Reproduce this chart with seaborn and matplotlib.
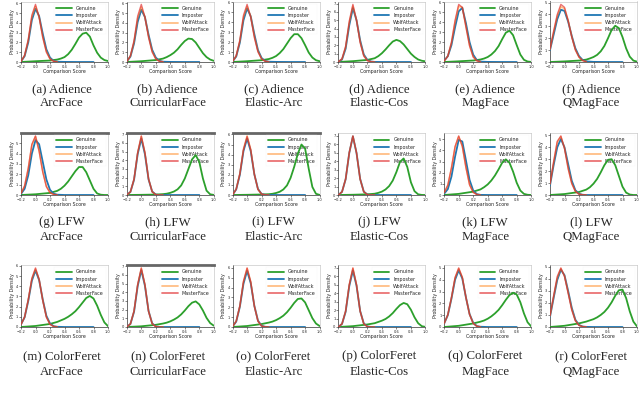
import matplotlib
matplotlib.use("Agg")
import matplotlib.pyplot as plt
import matplotlib.ticker as mticker
import seaborn as sns

datasets = ["Adience", "LFW", "ColorFeret"]
models = ["ArcFace", "CurricularFace", "Elastic-Arc", "Elastic-Cos", "MagFace", "QMagFace"]
letters = "abcdefghijklmnopqr"
labels = ["Genuine", "Imposter", "WolfAttack", "MasterFace"]

# comparison score grids (x values the densities were read at)
imp_x = [-0.2, -0.15, -0.1, -0.05, 0.0, 0.05, 0.1, 0.15, 0.2, 0.25, 0.3, 0.4, 0.6, 0.8]
atk_x = [-0.2, -0.15, -0.1, -0.05, 0.0, 0.05, 0.1, 0.15, 0.2, 0.25, 0.3]
gen_x = [-0.2, 0.0, 0.2, 0.3, 0.35, 0.4, 0.45, 0.5, 0.55, 0.6, 0.65, 0.7, 0.75, 0.8,
         0.85, 0.9, 0.95, 1.0]

# Adience
adience_genuine = [
    [0.0, 0.08, 0.15, 0.25, 0.35, 0.5, 0.8, 1.25, 1.85, 2.5, 2.9, 3.0, 2.6, 1.7, 0.95, 0.45, 0.2, 0.1],
    [0.0, 0.08, 0.2, 0.35, 0.5, 0.7, 0.95, 1.3, 1.75, 2.15, 2.4, 2.35, 2.0, 1.45, 0.9, 0.5, 0.25, 0.12],
    [0.0, 0.08, 0.18, 0.3, 0.42, 0.6, 0.9, 1.3, 1.85, 2.4, 2.8, 2.8, 2.4, 1.7, 0.95, 0.45, 0.18, 0.08],
    [0.0, 0.1, 0.25, 0.45, 0.7, 1.05, 1.5, 2.0, 2.45, 2.65, 2.5, 2.1, 1.55, 1.0, 0.6, 0.3, 0.15, 0.08],
    [0.0, 0.07, 0.15, 0.25, 0.35, 0.5, 0.75, 1.1, 1.6, 2.3, 2.95, 3.15, 2.7, 1.7, 0.75, 0.22, 0.05, 0.01],
    [0.0, 0.05, 0.12, 0.2, 0.3, 0.42, 0.6, 0.9, 1.35, 2.0, 2.7, 3.05, 2.85, 2.1, 1.15, 0.45, 0.12, 0.03],
]
adience_imposter = [
    [0.05, 0.6, 2.0, 4.3, 5.45, 4.7, 2.9, 1.3, 0.45, 0.12, 0.03, 0.01, 0.0, 0.0],
    [0.05, 0.55, 1.9, 4.1, 5.35, 4.6, 2.8, 1.25, 0.45, 0.12, 0.03, 0.01, 0.0, 0.0],
    [0.05, 0.55, 1.95, 4.2, 5.4, 4.6, 2.8, 1.2, 0.4, 0.1, 0.03, 0.01, 0.0, 0.0],
    [0.02, 0.3, 1.6, 4.4, 6.45, 5.0, 2.6, 0.9, 0.25, 0.06, 0.01, 0.0, 0.0, 0.0],
    [0.14, 0.58, 1.7, 3.5, 5.1, 5.45, 3.9, 2.0, 0.74, 0.19, 0.04, 0.01, 0.0, 0.0],
    [1.0, 2.3, 3.6, 4.4, 4.3, 3.4, 2.2, 1.15, 0.5, 0.17, 0.05, 0.01, 0.0, 0.0],
]
adience_wolf = [
    [0.05, 0.65, 2.2, 4.6, 5.7, 4.6, 2.6, 1.1, 0.35, 0.08, 0.02],
    [0.05, 0.6, 2.05, 4.45, 5.6, 4.6, 2.65, 1.1, 0.35, 0.08, 0.02],
    [0.05, 0.6, 2.1, 4.5, 5.6, 4.6, 2.6, 1.1, 0.33, 0.08, 0.02],
    [0.03, 0.35, 1.75, 4.7, 6.7, 5.0, 2.45, 0.8, 0.2, 0.04, 0.01],
    [0.1, 0.6, 1.9, 4.0, 5.6, 5.5, 3.6, 1.7, 0.55, 0.13, 0.03],
    [1.05, 2.5, 3.85, 4.65, 4.5, 3.5, 2.15, 1.05, 0.42, 0.13, 0.03],
]
adience_master = [
    [0.05, 0.7, 2.3, 4.8, 5.9, 4.6, 2.5, 1.0, 0.3, 0.07, 0.02],
    [0.05, 0.65, 2.2, 4.7, 5.9, 4.6, 2.5, 1.0, 0.3, 0.07, 0.02],
    [0.05, 0.65, 2.2, 4.7, 5.8, 4.5, 2.45, 1.0, 0.3, 0.07, 0.02],
    [0.03, 0.4, 1.9, 4.9, 6.9, 5.0, 2.3, 0.7, 0.15, 0.03, 0.0],
    [0.1, 0.6, 2.0, 4.2, 5.8, 5.5, 3.5, 1.6, 0.5, 0.12, 0.03],
    [1.1, 2.6, 4.0, 4.85, 4.6, 3.5, 2.1, 1.0, 0.4, 0.12, 0.03],
]

# LFW
lfw_genuine = [
    [0.0, 0.07, 0.2, 0.4, 0.6, 0.9, 1.3, 1.8, 2.3, 2.7, 2.7, 2.2, 1.4, 0.6, 0.15, 0.03, 0.0, 0.0],
    [0.0, 0.02, 0.05, 0.1, 0.15, 0.25, 0.4, 0.65, 1.1, 1.9, 3.0, 4.1, 4.6, 3.8, 1.9, 0.5, 0.08, 0.01],
    [0.0, 0.02, 0.05, 0.08, 0.12, 0.2, 0.32, 0.55, 0.95, 1.7, 2.8, 4.1, 5.0, 4.6, 2.6, 0.8, 0.12, 0.01],
    [0.0, 0.03, 0.08, 0.15, 0.25, 0.4, 0.65, 1.05, 1.7, 2.7, 3.9, 4.3, 3.3, 1.5, 0.45, 0.08, 0.01, 0.0],
    [0.0, 0.1, 0.3, 0.5, 0.7, 0.95, 1.3, 1.75, 2.3, 2.9, 3.2, 2.9, 2.1, 1.1, 0.4, 0.1, 0.02, 0.0],
    [0.0, 0.08, 0.25, 0.45, 0.65, 0.95, 1.35, 1.9, 2.5, 2.95, 3.0, 2.5, 1.6, 0.7, 0.2, 0.04, 0.0, 0.0],
]
lfw_imposter = [
    [0.1, 0.6, 1.9, 4.0, 5.3, 4.9, 3.2, 1.5, 0.5, 0.13, 0.03, 0.0, 0.0, 0.0],
    [0.0, 0.35, 1.75, 4.7, 6.5, 4.7, 1.8, 0.4, 0.05, 0.0, 0.0, 0.0, 0.0, 0.0],
    [0.02, 0.56, 2.0, 4.35, 5.6, 4.35, 2.05, 0.6, 0.1, 0.02, 0.0, 0.0, 0.0, 0.0],
    [0.0, 0.37, 1.85, 4.95, 6.9, 4.95, 1.9, 0.4, 0.05, 0.0, 0.0, 0.0, 0.0, 0.0],
    [0.12, 0.53, 1.65, 3.45, 4.95, 4.8, 3.1, 1.35, 0.4, 0.08, 0.01, 0.0, 0.0, 0.0],
    [0.8, 2.5, 4.0, 4.7, 4.0, 2.6, 1.2, 0.4, 0.1, 0.02, 0.0, 0.0, 0.0, 0.0],
]
lfw_wolf = [
    [0.15, 0.85, 2.5, 4.8, 5.65, 4.3, 2.3, 0.85, 0.25, 0.05, 0.01],
    [0.0, 0.36, 1.8, 4.85, 6.75, 4.85, 1.85, 0.38, 0.04, 0.0, 0.0],
    [0.02, 0.6, 2.1, 4.55, 5.85, 4.5, 2.05, 0.56, 0.09, 0.01, 0.0],
    [0.0, 0.37, 1.88, 4.98, 6.92, 4.95, 1.87, 0.38, 0.04, 0.0, 0.0],
    [0.2, 0.85, 2.4, 4.3, 5.25, 4.4, 2.5, 0.95, 0.25, 0.05, 0.0],
    [0.9, 2.7, 4.4, 4.9, 3.95, 2.3, 1.0, 0.32, 0.08, 0.01, 0.0],
]
lfw_master = [
    [0.15, 0.9, 2.6, 4.9, 5.7, 4.2, 2.2, 0.8, 0.22, 0.05, 0.01],
    [0.0, 0.37, 1.85, 4.9, 6.8, 4.9, 1.85, 0.37, 0.04, 0.0, 0.0],
    [0.02, 0.58, 2.1, 4.5, 5.8, 4.5, 2.05, 0.55, 0.09, 0.01, 0.0],
    [0.0, 0.38, 1.9, 5.0, 6.95, 4.95, 1.85, 0.37, 0.04, 0.0, 0.0],
    [0.23, 0.9, 2.45, 4.35, 5.3, 4.35, 2.45, 0.9, 0.23, 0.04, 0.0],
    [0.95, 2.8, 4.5, 4.95, 3.9, 2.2, 0.95, 0.3, 0.07, 0.01, 0.0],
]

# ColorFeret
feret_genuine = [
    [0.0, 0.1, 0.3, 0.5, 0.65, 0.8, 1.0, 1.25, 1.55, 1.95, 2.4, 2.85, 3.05, 2.8, 2.1, 1.2, 0.45, 0.08],
    [0.0, 0.08, 0.25, 0.4, 0.5, 0.65, 0.85, 1.1, 1.45, 1.9, 2.4, 2.8, 2.95, 2.6, 1.9, 1.05, 0.45, 0.15],
    [0.0, 0.1, 0.3, 0.45, 0.55, 0.7, 0.9, 1.15, 1.5, 1.95, 2.45, 2.85, 2.9, 2.5, 1.7, 0.9, 0.35, 0.1],
    [0.0, 0.1, 0.3, 0.45, 0.6, 0.75, 0.95, 1.25, 1.65, 2.15, 2.6, 2.85, 2.7, 2.05, 1.15, 0.45, 0.1, 0.01],
    [0.0, 0.1, 0.3, 0.45, 0.55, 0.7, 0.9, 1.15, 1.45, 1.85, 2.3, 2.7, 2.9, 2.75, 2.1, 1.15, 0.4, 0.05],
    [0.0, 0.1, 0.3, 0.45, 0.55, 0.65, 0.8, 1.0, 1.25, 1.6, 2.05, 2.6, 3.05, 3.1, 2.4, 1.3, 0.45, 0.05],
]
feret_imposter = [
    [0.25, 0.95, 2.55, 4.55, 5.55, 4.6, 2.7, 1.1, 0.35, 0.08, 0.02, 0.0, 0.0, 0.0],
    [0.0, 0.35, 1.75, 4.7, 6.55, 4.75, 1.85, 0.42, 0.06, 0.01, 0.0, 0.0, 0.0, 0.0],
    [0.05, 0.55, 2.05, 4.4, 5.7, 4.45, 2.15, 0.65, 0.12, 0.02, 0.0, 0.0, 0.0, 0.0],
    [0.0, 0.37, 1.8, 4.85, 6.7, 4.9, 1.9, 0.42, 0.06, 0.01, 0.0, 0.0, 0.0, 0.0],
    [0.3, 1.0, 2.4, 4.0, 4.8, 4.1, 2.5, 1.1, 0.35, 0.08, 0.02, 0.0, 0.0, 0.0],
    [0.85, 2.4, 3.9, 4.75, 4.3, 3.0, 1.6, 0.6, 0.17, 0.04, 0.01, 0.0, 0.0, 0.0],
]
feret_wolf = [
    [0.25, 0.98, 2.65, 4.7, 5.7, 4.65, 2.65, 1.0, 0.28, 0.06, 0.01],
    [0.0, 0.36, 1.82, 4.85, 6.75, 4.85, 1.85, 0.38, 0.05, 0.0, 0.0],
    [0.05, 0.6, 2.1, 4.6, 5.95, 4.6, 2.15, 0.6, 0.1, 0.01, 0.0],
    [0.0, 0.38, 1.88, 5.0, 6.95, 5.0, 1.88, 0.38, 0.05, 0.0, 0.0],
    [0.3, 1.03, 2.45, 4.15, 4.95, 4.2, 2.5, 1.08, 0.32, 0.07, 0.01],
    [0.9, 2.5, 4.05, 4.85, 4.25, 2.9, 1.5, 0.55, 0.15, 0.03, 0.0],
]
feret_master = [
    [0.25, 1.0, 2.7, 4.8, 5.8, 4.7, 2.6, 0.95, 0.25, 0.05, 0.0],
    [0.0, 0.37, 1.85, 4.9, 6.8, 4.9, 1.8, 0.37, 0.04, 0.0, 0.0],
    [0.05, 0.6, 2.15, 4.65, 6.0, 4.6, 2.1, 0.58, 0.1, 0.01, 0.0],
    [0.0, 0.38, 1.9, 5.05, 7.0, 5.0, 1.85, 0.37, 0.04, 0.0, 0.0],
    [0.32, 1.05, 2.5, 4.2, 5.0, 4.2, 2.5, 1.05, 0.3, 0.06, 0.01],
    [0.95, 2.6, 4.2, 4.9, 4.2, 2.8, 1.4, 0.5, 0.13, 0.03, 0.0],
]

genuine = [adience_genuine, lfw_genuine, feret_genuine]
imposter = [adience_imposter, lfw_imposter, feret_imposter]
wolf = [adience_wolf, lfw_wolf, feret_wolf]
master = [adience_master, lfw_master, feret_master]

sns.set_style("ticks")

W, H = 640, 397
fig = plt.figure(figsize=(6.4, 3.97), dpi=100)

# layout in pixels
col_left = [21 + 105.8 * i for i in range(6)]
ax_w = 87
row_top = [1.5, 133, 265]
row_bot = [62, 195, 327]
cap_y = [(89, 103), (222, 237), (356, 372)]
thick_top = {(1, 0), (1, 1), (1, 2), (2, 1)}

k = 0
for r in range(3):
    for c in range(6):
        ax = fig.add_axes([col_left[c] / W, 1 - row_bot[r] / H, ax_w / W,
                           (row_bot[r] - row_top[r]) / H])
        sns.lineplot(x=gen_x, y=genuine[r][c], ax=ax, color="#2ca02c", lw=1.3,
                     label=labels[0], zorder=6)
        sns.lineplot(x=imp_x, y=imposter[r][c], ax=ax, color="#1f77b4", lw=1.3,
                     label=labels[1], zorder=6)
        sns.lineplot(x=atk_x, y=wolf[r][c], ax=ax, color="#ff7f0e", lw=1.2,
                     alpha=0.5, label=labels[2], zorder=6)
        sns.lineplot(x=atk_x, y=master[r][c], ax=ax, color="#e0282a", lw=1.0,
                     alpha=0.65, label=labels[3], zorder=6)

        ymax = max(max(genuine[r][c]), max(imposter[r][c]), max(wolf[r][c]),
                   max(master[r][c]))
        ax.set_xlim(-0.2, 1.0)
        ax.set_ylim(0, ymax * 1.05)
        ax.xaxis.set_major_locator(mticker.MultipleLocator(0.2))
        ax.yaxis.set_major_locator(mticker.MultipleLocator(1))
        ax.tick_params(labelsize=2.6, length=1.2, width=0.4, pad=0.8)
        ax.set_xlabel("Comparison Score", fontsize=3.4, labelpad=0.5)
        ax.set_ylabel("Probability Density", fontsize=3.4, labelpad=0.8)
        for side in ["left", "bottom"]:
            ax.spines[side].set_color("#333333")
            ax.spines[side].set_linewidth(0.5)
        for side in ["top", "right"]:
            ax.spines[side].set_color("#bbbbbb")
            ax.spines[side].set_linewidth(0.4)
        if (r, c) in thick_top:
            ax.spines["top"].set_color("#666666")
            ax.spines["top"].set_linewidth(2.0)

        leg = ax.legend(loc="upper right", fontsize=3.5, handlelength=3.2,
                        labelspacing=0.45, borderpad=0.4, frameon=True,
                        framealpha=0.5, edgecolor="#eeeeee", fancybox=False)
        leg.set_zorder(5)
        leg.get_frame().set_linewidth(0.3)
        for line in leg.get_lines():
            line.set_linewidth(1.3)

        cx = (col_left[c] + 41) / W
        fig.text(cx, 1 - cap_y[r][0] / H, f"({letters[k]}) {datasets[r]}",
                 ha="center", va="center", fontsize=9.3, family="Liberation Serif")
        fig.text(cx, 1 - cap_y[r][1] / H, models[c],
                 ha="center", va="center", fontsize=9.3, family="Liberation Serif")
        k += 1

fig.savefig("out.png", dpi=100)
